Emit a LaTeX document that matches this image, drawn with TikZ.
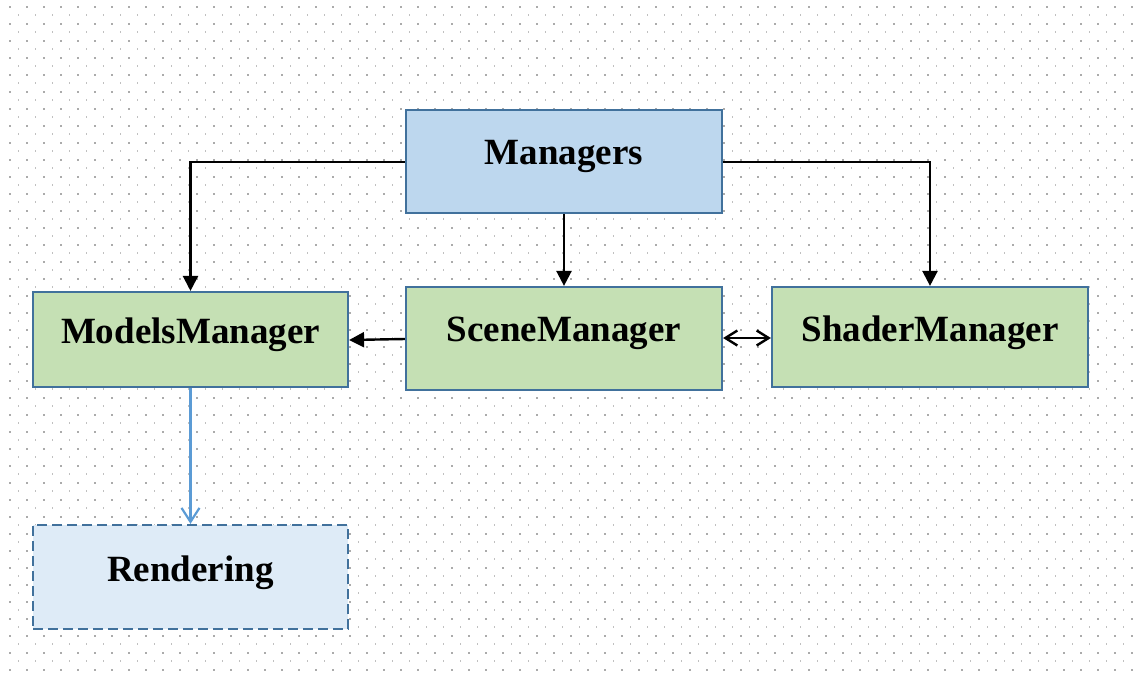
\documentclass[tikz,border=0pt]{standalone}
\usepackage{fontspec}
\setmainfont{Liberation Serif}
\usetikzlibrary{arrows.meta}

\definecolor{edgeblue}{HTML}{41719C}
\definecolor{topfill}{HTML}{BDD7EE}
\definecolor{mgrfill}{HTML}{C5E0B4}
\definecolor{rendfill}{HTML}{DEEBF7}
\definecolor{linkblue}{HTML}{5B9BD5}
\definecolor{dotgray}{HTML}{ABABAB}

\tikzset{
  box/.style={draw=edgeblue, line width=2.2pt, rectangle, inner sep=0pt},
  topbox/.style={box, fill=topfill, minimum width=316pt, minimum height=103pt},
  mgrbox/.style={box, fill=mgrfill, minimum width=316pt},
  rendbox/.style={box, fill=rendfill, dash pattern=on 10pt off 5pt, minimum width=315pt, minimum height=104pt},
  title/.style={anchor=base, inner sep=0pt, font=\fontsize{37}{44}\selectfont\bfseries},
  link/.style={line width=2.4pt, -{Triangle[length=15pt,width=15pt]}},
  mutual/.style={line width=2.4pt, {Straight Barb[length=12pt,width=15pt]}-{Straight Barb[length=12pt,width=15pt]}},
  flow/.style={draw=linkblue, line width=2.2pt, -{Straight Barb[length=14pt,width=18pt]}}
}

\begin{document}
\begin{tikzpicture}[x=1pt, y=-1pt]
\useasboundingbox (0,0) rectangle (1139,675);

% dotted paper background: two staggered grids
\foreach \i in {0,...,66} {
  \foreach \j in {-1,...,38} {
    \fill[dotgray] ({10+17*\i-0.8},{24+17*\j-0.8}) rectangle ++(1.6,1.6);
  }
}
\foreach \i in {0,...,66} {
  \foreach \j in {0,...,38} {
    \fill[dotgray!75] ({18.5+17*\i-0.8},{15+17*\j-0.8}) rectangle ++(1.6,1.6);
  }
}

% boxes
\node[topbox] (managers) at (564,161.5) {};
\node[mgrbox, minimum width=315pt, minimum height=95pt] (models) at (190.5,339.5) {};
\node[mgrbox, minimum height=103pt] (scene) at (564,338.5) {};
\node[mgrbox, minimum height=100pt] (shader) at (930,337) {};
\node[rendbox] (render) at (190.5,577) {};

% titles
\node[title] (managers-t) at (564,164) {Managers};
\node[title] (models-t) at (190.5,343) {ModelsManager};
\node[title] (scene-t) at (564,341) {SceneManager};
\node[title] (shader-t) at (930,341) {ShaderManager};
\node[title] (render-t) at (190.5,581) {Rendering};

% connectors
\draw[link] (managers.west |- 0,162) -| (models.north);
\draw[link] (managers.south) -- (scene.north);
\draw[link] (managers.east |- 0,162) -| (shader.north);
\draw[link] (scene.west |- 0,339) -- (models.east |- 0,340);
\draw[mutual] (scene.east |- 0,338) -- (shader.west |- 0,338);
\draw[flow] (models.south) -- (render.north);
\end{tikzpicture}
\end{document}
